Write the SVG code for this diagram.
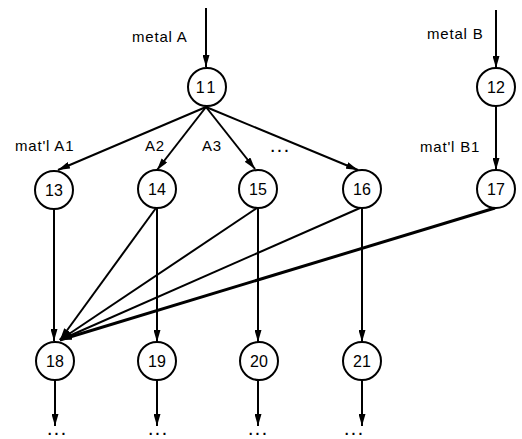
<svg xmlns="http://www.w3.org/2000/svg" width="522" height="439" viewBox="0 0 522 439">
  <style>
    .node circle { fill: #fff; stroke: #000; stroke-width: 2; }
    .node text { font-family: "Liberation Sans", Arial, sans-serif; font-size: 16px; text-anchor: middle; fill: #000; }
    .lbl { font-family: "Liberation Sans", Arial, sans-serif; font-size: 15px; fill: #000; letter-spacing: 0.8px; }
    .dots { font-family: "Liberation Sans", Arial, sans-serif; font-size: 14px; font-weight: bold; text-anchor: middle; letter-spacing: 3px; fill: #000; }
    .edge { stroke: #000; stroke-width: 2; fill: none; marker-end: url(#arrow); }
    .thick { stroke-width: 3; }
  </style>
  <defs>
    <marker id="arrow" viewBox="0 0 12 7" refX="12" refY="3.5" markerWidth="12" markerHeight="7" markerUnits="userSpaceOnUse" orient="auto">
      <path d="M0,0 L12,3.5 L0,7 z" fill="#000"/>
    </marker>
  </defs>
  <rect width="522" height="439" fill="#fff"/>

  <!-- connectors -->
  <g id="connectors">
    <line class="edge" x1="206" y1="8" x2="206" y2="67"/>
    <line class="edge" x1="496" y1="10" x2="496" y2="68"/>
    <line class="edge" x1="496" y1="106" x2="496" y2="170"/>
    <line class="edge" x1="206" y1="107" x2="58" y2="170"/>
    <line class="edge" x1="206" y1="107" x2="157" y2="170"/>
    <line class="edge" x1="206" y1="107" x2="255" y2="169"/>
    <line class="edge" x1="206" y1="107" x2="358" y2="170"/>
    <line class="edge" x1="54" y1="209" x2="54" y2="341"/>
    <line class="edge" x1="156" y1="208" x2="60" y2="340"/>
    <line class="edge" x1="257" y1="208" x2="60" y2="340"/>
    <line class="edge" x1="360" y1="208" x2="60" y2="340"/>
    <line class="edge thick" x1="495" y1="208" x2="60" y2="340"/>
    <line class="edge" x1="157" y1="208" x2="157" y2="342"/>
    <line class="edge" x1="258" y1="208" x2="258" y2="342"/>
    <line class="edge" x1="362" y1="208" x2="362" y2="342"/>
    <line class="edge" x1="55" y1="380" x2="55" y2="426"/>
    <line class="edge" x1="157" y1="380" x2="157" y2="426"/>
    <line class="edge" x1="258" y1="380" x2="258" y2="426"/>
    <line class="edge" x1="362" y1="380" x2="362" y2="426"/>
  </g>

  <!-- edge labels -->
  <g id="labels">
    <text class="lbl" x="132" y="42">metal A</text>
    <text class="lbl" x="427" y="39">metal B</text>
    <text class="lbl" x="15" y="151">mat'l A1</text>
    <text class="lbl" x="145" y="151">A2</text>
    <text class="lbl" x="202" y="151">A3</text>
    <text class="dots" x="281" y="152">...</text>
    <text class="lbl" x="420" y="152">mat'l B1</text>
    <text class="dots" x="58" y="435">...</text>
    <text class="dots" x="159" y="435">...</text>
    <text class="dots" x="259" y="435">...</text>
    <text class="dots" x="355" y="435">...</text>
  </g>

  <!-- nodes -->
  <g id="n11" class="node"><circle cx="207" cy="87" r="19"/><text x="207" y="93" letter-spacing="3">11</text></g>
  <g id="n12" class="node"><circle cx="496" cy="87" r="19"/><text x="496" y="93">12</text></g>
  <g id="n13" class="node"><circle cx="54" cy="190" r="19"/><text x="54" y="196">13</text></g>
  <g id="n14" class="node"><circle cx="157" cy="189" r="19"/><text x="157" y="195">14</text></g>
  <g id="n15" class="node"><circle cx="258" cy="189" r="19"/><text x="258" y="195">15</text></g>
  <g id="n16" class="node"><circle cx="362" cy="189" r="19"/><text x="362" y="195">16</text></g>
  <g id="n17" class="node"><circle cx="496" cy="189" r="19"/><text x="496" y="195">17</text></g>
  <g id="n18" class="node"><circle cx="55" cy="361" r="19"/><text x="55" y="367">18</text></g>
  <g id="n19" class="node"><circle cx="157" cy="361" r="19"/><text x="157" y="367">19</text></g>
  <g id="n20" class="node"><circle cx="259" cy="361" r="19"/><text x="259" y="367">20</text></g>
  <g id="n21" class="node"><circle cx="362" cy="361" r="19"/><text x="362" y="367">21</text></g>
</svg>
